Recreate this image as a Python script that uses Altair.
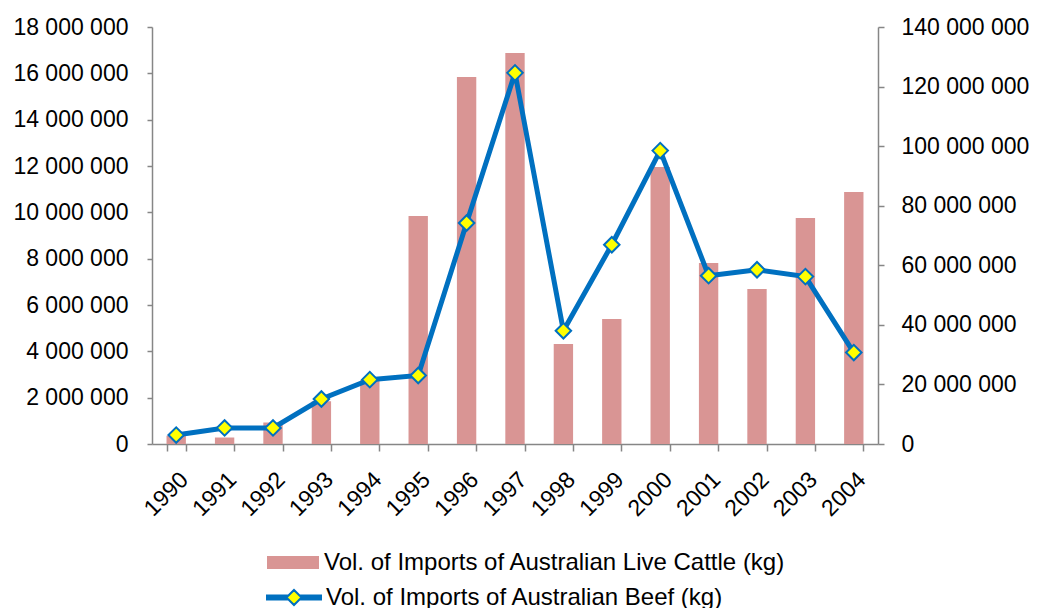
import altair as alt
import pandas as pd

years = [str(y) for y in range(1990, 2005)]
live_cattle_kg = [360000, 280000, 930000, 1840000, 2750000, 9840000, 15840000, 16880000,
                  4320000, 5400000, 11960000, 7810000, 6690000, 9760000, 10880000]
beef_kg = [3000000, 5400000, 5400000, 15100000, 21600000, 23000000, 74200000, 124600000,
           38000000, 66900000, 98500000, 56500000, 58500000, 56200000, 30700000]
cattle_label = "Vol. of Imports of Australian Live Cattle (kg)"
beef_label = "Vol. of Imports of Australian Beef (kg)"
left_ticks = list(range(0, 18000001, 2000000))
right_ticks = list(range(0, 140000001, 20000000))

PINK = "#D99594"
BLUE = "#0070C0"
YELLOW = "#FFFF00"
GREY = "#868686"
FONT = "Liberation Sans"
FS = 23
LFS = 24

df = pd.DataFrame({
    "year": years,
    "cattle": live_cattle_kg,
    "beef": beef_kg,
    "s_cattle": [cattle_label] * len(years),
    "s_beef": [beef_label] * len(years),
})

label_expr = "replace(format(datum.value, ','), /,/g, ' ')"

base = alt.Chart(df)

x_enc = alt.X(
    "year:N",
    sort=years,
    scale=alt.Scale(paddingInner=0.6, paddingOuter=0.3),
    axis=alt.Axis(title=None, labelAngle=-45, tickBand="extent", tickSize=7,
                  labelPadding=17, labelFontSize=FS),
)

bar_path = "M-1,-0.25H1V0.25H-1Z"
d = 0.27
segs = []
for yy in (-0.071, 0.0, 0.071):
    e = d - abs(yy)
    segs.append(f"M-1,{yy}H{-e:.3f}M{e:.3f},{yy}H1")
beef_path = "".join(segs) + f"M{-d},0L0,{-d}L{d},0L0,{d}Z"

bars = base.mark_bar(color=PINK).encode(
    x=x_enc,
    y=alt.Y("cattle:Q",
            scale=alt.Scale(domain=[0, 18000000], nice=False, zero=True),
            axis=alt.Axis(title=None, orient="left", values=left_ticks, labelExpr=label_expr,
                          tickSize=5, labelPadding=19)),
    fill=alt.Fill("s_cattle:N",
                  scale=alt.Scale(domain=[cattle_label], range=[PINK]),
                  legend=alt.Legend(title=None, orient="none", legendX=115, legendY=509.5,
                                    symbolType=bar_path, symbolSize=2704,
                                    symbolStrokeWidth=0, symbolStrokeColor=PINK,
                                    labelFontSize=LFS, labelFont=FONT, labelColor="black",
                                    labelLimit=1000, labelOffset=5, padding=0)),
)

line = base.mark_line(color=BLUE, strokeWidth=5).encode(
    x=x_enc,
    y=alt.Y("beef:Q",
            scale=alt.Scale(domain=[0, 140000000], nice=False, zero=True),
            axis=alt.Axis(title=None, orient="right", values=right_ticks, labelExpr=label_expr,
                          tickSize=6, labelPadding=17)),
)

points = base.mark_point(shape="diamond", filled=True, fill=YELLOW, size=240,
                         strokeWidth=2, opacity=1).encode(
    x=x_enc,
    y=alt.Y("beef:Q"),
    stroke=alt.Stroke("s_beef:N",
                      scale=alt.Scale(domain=[beef_label], range=[BLUE]),
                      legend=alt.Legend(title=None, orient="none", legendX=113, legendY=541.5,
                                        symbolType=beef_path, symbolSize=3136,
                                        symbolStrokeWidth=2, symbolFillColor=YELLOW,
                                        labelFontSize=LFS, labelFont=FONT, labelColor="black",
                                        labelLimit=1000, labelOffset=3, padding=0)),
)

chart = alt.layer(bars, alt.layer(line, points)).resolve_scale(
    y="independent", fill="independent", stroke="independent"
).properties(
    width=726,
    height=417,
    autosize=alt.AutoSizeParams(type="none"),
    padding={"left": 144, "top": 19, "right": 154, "bottom": 164},
).configure_axis(
    labelFont=FONT,
    labelFontSize=FS,
    labelColor="black",
    domainColor=GREY,
    domainWidth=1.5,
    tickColor=GREY,
    tickWidth=1.5,
    grid=False,
).configure_view(
    stroke=None
)

chart.save("out.html", embed_options={"renderer": "svg", "actions": False})
